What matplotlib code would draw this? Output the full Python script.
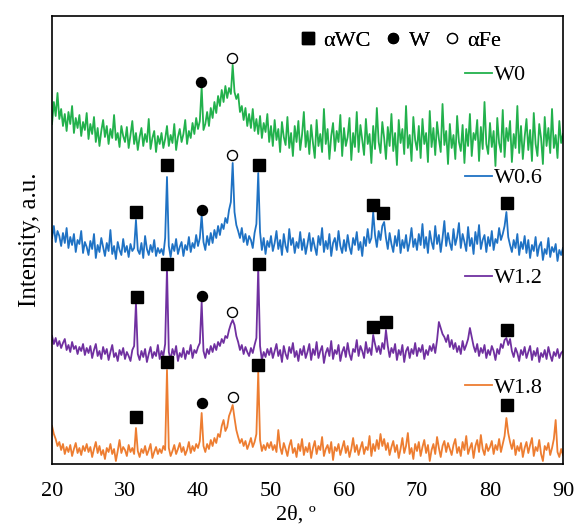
import numpy as np
import matplotlib
matplotlib.use("Agg")
import matplotlib.pyplot as plt
from matplotlib.lines import Line2D

# --- data (0.25 deg steps from 20 to 90) ---
two_theta = np.linspace(20, 90, 281)

w0 = [340, 362, 348, 371, 345, 355, 338, 350, 333, 352, 340, 358, 331, 346, 336, 349, 328, 342, 334, 351,
      325, 340, 330, 347, 322, 336, 318, 333, 344, 327, 338, 320, 335, 326, 349, 324, 331, 317, 338, 328,
      322, 337, 316, 329, 343, 320, 331, 314, 327, 336, 318, 330, 322, 345, 315, 326, 333, 312, 328, 320,
      331, 316, 325, 338, 318, 329, 321, 340, 314, 327, 335, 322, 330, 344, 320, 333, 326, 341, 330, 346,
      335, 343, 377, 334, 340, 352, 338, 356, 346, 362, 351, 368, 358, 374, 362, 378, 366, 376, 370, 399,
      372, 365, 370, 352, 358, 344, 356, 338, 350, 336, 355, 333, 345, 330, 348, 326, 341, 332, 350, 322,
      338, 318, 344, 324, 335, 312, 342, 327, 319, 347, 316, 331, 308, 338, 322, 343, 314, 329, 352, 317,
      333, 310, 339, 321, 306, 344, 318, 330, 312, 355, 320, 335, 305, 328, 341, 313, 333, 322, 349, 308,
      336, 318, 327, 346, 304, 331, 317, 352, 312, 339, 324, 309, 345, 320, 330, 301, 338, 315, 356, 322,
      311, 342, 326, 305, 337, 318, 350, 313, 331, 299, 344, 321, 335, 310, 358, 316, 329, 303, 347, 324,
      314, 338, 306, 345, 320, 331, 302, 353, 317, 336, 309, 342, 325, 312, 360, 319, 333, 300, 340, 316,
      329, 305, 348, 322, 313, 339, 301, 335, 318, 350, 308, 331, 324, 344, 303, 337, 315, 362, 320, 310,
      341, 317, 333, 298, 346, 321, 312, 354, 307, 336, 323, 343, 302, 330, 316, 358, 311, 338, 305, 327,
      345, 314, 334, 303, 351, 320, 308, 340, 326, 300, 347, 318, 336, 311, 355, 316, 329, 306, 343, 321,
      330]

w06 = [226, 238, 222, 233, 228, 218, 231, 221, 236, 216, 227, 219, 230, 212, 224, 220, 233, 211, 222, 217,
       209, 223, 215, 230, 206, 219, 212, 226, 217, 208, 221, 213, 234, 210, 218, 205, 222, 214, 209, 225,
       212, 218, 207, 220, 213, 216, 244, 214, 210, 221, 206, 228, 215, 209, 219, 212, 224, 208, 216, 211,
       215, 209, 226, 287, 218, 207, 220, 213, 225, 210, 217, 222, 208, 219, 214, 227, 212, 221, 216, 229,
       218, 226, 249, 222, 214, 228, 219, 231, 221, 234, 226, 238, 229, 240, 235, 246, 241, 254, 262, 301,
       252, 239, 233, 226, 236, 222, 230, 219, 228, 224, 216, 231, 240, 291, 232, 214, 226, 210, 223, 217,
       228, 213, 221, 233, 215, 224, 209, 230, 218, 212, 235, 219, 226, 211, 222, 216, 232, 214, 225, 210,
       220, 231, 213, 226, 217, 209, 228, 219, 236, 212, 223, 215, 230, 208, 221, 226, 214, 233, 218, 211,
       224, 213, 229, 217, 210, 226, 219, 232, 214, 222, 208, 227, 218, 235, 221, 226, 252, 229, 217, 233,
       224, 238, 242, 226, 215, 231, 220, 212, 228, 218, 234, 211, 224, 216, 229, 213, 222, 236, 217, 225,
       214, 230, 219, 240, 216, 227, 211, 233, 222, 215, 238, 220, 229, 212, 226, 243, 218, 231, 221, 214,
       235, 219, 227, 241, 216, 230, 222, 213, 237, 218, 226, 210, 232, 220, 239, 215, 224, 229, 212, 227,
       218, 233, 214, 225, 221, 236, 224, 230, 238, 252, 227, 219, 212, 224, 216, 230, 209, 222, 215, 228,
       211, 224, 206, 219, 213, 227, 208, 218, 222, 204, 215, 210, 226, 207, 217, 212, 220, 203, 214, 209,
       216]

w12 = [128, 120, 126, 118, 123, 116, 121, 125, 114, 119, 112, 122, 115, 118, 110, 117, 113, 120, 109, 116,
       111, 118, 106, 114, 120, 108, 113, 105, 117, 110, 115, 104, 112, 119, 107, 111, 103, 114, 109, 116,
       105, 112, 108, 103, 114, 118, 161, 110, 104, 113, 107, 115, 102, 110, 117, 106, 112, 108, 119, 105,
       113, 108, 120, 196, 112, 104, 115, 109, 118, 103, 111, 107, 116, 105, 113, 110, 119, 106, 114, 111,
       117, 121, 162, 113, 106, 115, 110, 118, 112, 120, 114, 122, 118, 125, 121, 128, 126, 134, 140, 144,
       139, 128, 122, 114, 119, 110, 117, 112, 108, 116, 111, 119, 126, 196, 118, 104, 112, 107, 115, 109,
       116, 106, 113, 120, 108, 114, 102, 118, 110, 105, 117, 111, 121, 107, 113, 103, 115, 109, 118, 106,
       112, 120, 104, 115, 109, 122, 106, 113, 118, 101, 111, 116, 108, 123, 105, 114, 110, 119, 103, 112,
       117, 107, 121, 110, 104, 115, 112, 124, 108, 118, 113, 106, 122, 111, 116, 109, 129, 120, 112, 118,
       110, 121, 115, 134, 118, 107, 116, 111, 120, 104, 114, 109, 119, 102, 113, 117, 106, 115, 110, 121,
       108, 116, 112, 119, 105, 114, 109, 118, 113, 120, 111, 124, 142, 136, 130, 127, 122, 129, 117, 124,
       115, 121, 112, 118, 110, 123, 114, 119, 125, 136, 127, 118, 112, 120, 108, 116, 111, 119, 106, 114,
       109, 118, 113, 104, 115, 110, 120, 116, 124, 126, 119, 125, 113, 107, 116, 111, 103, 114, 109, 117,
       106, 112, 118, 104, 113, 108, 116, 102, 111, 107, 114, 105, 117, 109, 103, 112, 108, 115, 106, 111,
       113]

w18 = [38, 30, 25, 18, 22, 14, 20, 10, 17, 12, 19, 8, 15, 21, 11, 16, 9, 18, 13, 20,
       12, 17, 7, 15, 22, 11, 18, 9, 14, 5, 16, 12, 20, 10, 15, 3, 13, 24, 11, 17,
       14, 8, 19, 12, 16, 10, 36, 13, 7, 15, 11, 18, 9, 14, 20, 6, 12, 17, 10, 15,
       11, 18, 14, 94, 16, 8, 13, 19, 10, 15, 21, 12, 17, 9, 14, 22, 11, 18, 13, 20,
       16, 23, 51, 18, 12, 20, 15, 24, 18, 26, 21, 30, 27, 38, 44, 33, 37, 48, 53, 59,
       46, 34, 27, 21, 25, 18, 23, 15, 20, 26, 17, 22, 30, 92, 24, 13, 19, 14, 21, 16,
       22, 14, 19, 12, 34, 17, 10, 21, 15, 8, 18, 24, 11, 16, 7, 20, 13, 25, 9, 17,
       12, 21, 6, 16, 23, 10, 18, 14, 27, 8, 15, 19, 11, 22, 4, 17, 13, 20, 9, 16,
       23, 11, 18, 7, 15, 26, 12, 19, 9, 16, 22, 10, 17, 14, 28, 8, 20, 13, 24, 15,
       30, 18, 25, 14, 21, 9, 17, 23, 12, 19, 6, 15, 26, 11, 18, 31, 10, 16, 5, 20,
       13, 22, 8, 17, 24, 11, 19, 3, 14, 20, 10, 27, 16, 7, 18, 23, 12, 21, 15, 9,
       19, 25, 11, 17, 8, 22, 14, 28, 10, 16, 21, 6, 18, 24, 12, 29, 15, 9, 20, 13,
       17, 23, 10, 19, 14, 25, 12, 20, 28, 46, 31, 22, 15, 24, 9, 18, 13, 21, 7, 16,
       22, 11, 19, 26, 8, 17, 13, 24, 10, 3, 18, 14, 21, 9, 16, 25, 44, 12, 7, 15,
       9]

series_names = ["W0", "W0.6", "W1.2", "W1.8"]
series_colors = ["#22B14C", "#1F72C4", "#7030A0", "#ED7D31"]

# phase markers (2theta, intensity) per pattern
wc_x = [31.5, 35.7, 48.3, 64.0, 65.3, 82.3,
        31.7, 35.7, 48.4, 64.0, 65.8, 82.4,
        31.5, 35.7, 48.2, 82.4]
wc_y = [252, 299, 299, 259, 251, 261,
        167, 200, 200, 137, 142, 134,
        47, 102, 99, 59]
w_x = [40.4, 40.5, 40.6, 40.5]
w_y = [382, 254, 168, 61]
fe_x = [44.7, 44.7, 44.7, 44.8]
fe_y = [406, 309, 152, 67]

# label spots for each curve (axes fraction)
label_pos = [(0.808, 0.868), (0.808, 0.638), (0.808, 0.415), (0.808, 0.170)]

plt.rcParams["font.family"] = ["Liberation Serif", "DejaVu Serif"]

fig = plt.figure(figsize=(5.78, 5.28), dpi=100)
ax = fig.add_axes([0.090, 0.1212, 0.884, 0.8485])

lines = []
for vals, col in zip([w0, w06, w12, w18], series_colors):
    ln, = ax.plot(two_theta, vals, color=col, lw=1.3)
    lines.append(ln)

ax.plot(wc_x, wc_y, ls="none", marker="s", ms=8.6, color="black")
ax.plot(w_x, w_y, ls="none", marker="o", ms=7.2, color="black")
ax.plot(fe_x, fe_y, ls="none", marker="o", ms=7.2, mfc="white", mec="black", mew=1.0)

ax.set_xlim(20, 90)
ax.set_ylim(0, 448)
ax.set_xticks(range(20, 91, 10))
ax.set_yticks([])
ax.tick_params(axis="x", length=0, pad=13, labelsize=16)
for sp in ax.spines.values():
    sp.set_linewidth(1.2)

ax.set_xlabel("2θ, º", fontsize=16, labelpad=3, x=0.477)
ax.set_ylabel("Intensity, a.u.", fontsize=18, labelpad=8)

for ln, name, pos in zip(lines, series_names, label_pos):
    leg = ax.legend([ln], [name], loc="center left", bbox_to_anchor=pos,
                    frameon=False, fontsize=16, handlelength=1.2,
                    handletextpad=0.1, borderpad=0, borderaxespad=0)
    ax.add_artist(leg)

phase_handles = [
    Line2D([], [], ls="none", marker="s", ms=8.6, color="black"),
    Line2D([], [], ls="none", marker="o", ms=7.2, color="black"),
    Line2D([], [], ls="none", marker="o", ms=7.2, mfc="white", mec="black", mew=1.0),
]
leg = ax.legend(phase_handles, ["αWC", "W", "αFe"], loc="center",
                bbox_to_anchor=(0.681, 0.945), ncol=3, frameon=False, fontsize=16,
                handlelength=0.8, handletextpad=0.3, columnspacing=0.6,
                borderpad=0, borderaxespad=0)
ax.add_artist(leg)

fig.savefig("out.png", dpi=100)
